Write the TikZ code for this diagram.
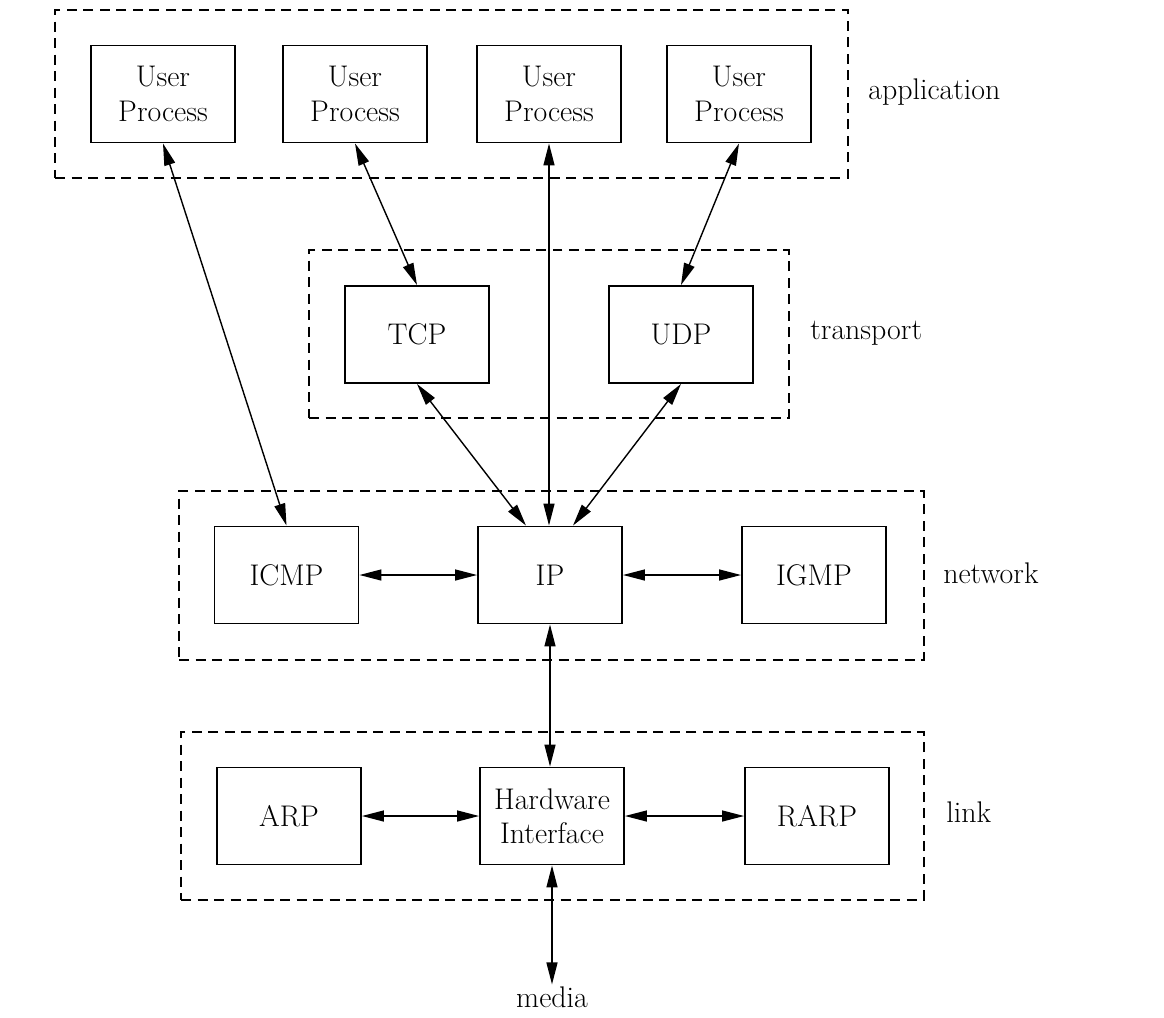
\documentclass[tikz,border=0pt]{standalone}
\usepackage{tikz}
\usetikzlibrary{positioning}
\usetikzlibrary{calc}
\usetikzlibrary{arrows.meta}
\tikzset{mybox/.style={draw, line width=1.1pt, minimum width=2.88cm, minimum height=1.94cm, align=center, inner sep=0pt}}
\tikzset{myLayer/.style={draw, dash pattern=on 0.2cm off 0.13cm, line width=0.8pt}}
\tikzset{myLbl/.style={anchor=west, inner sep=0pt}}
\tikzset{myArr/.style={{Triangle[length=0.44cm,width=0.22cm]}-{Triangle[length=0.44cm,width=0.22cm]}, line width=0.8pt}}

\begin{document}
\begin{tikzpicture}[x=0.02cm, y=-0.02cm, font=\fontsize{17}{19.5}\selectfont]

\useasboundingbox (0,0) rectangle (1164,1018);

% layers
\node[myLayer, minimum width=15.86cm, minimum height=3.36cm] (appLayer) at (451.5, 94) {};
\node[myLayer, minimum width=9.6cm, minimum height=3.36cm] (trLayer) at (549, 334) {};
\node[myLayer, minimum width=14.9cm, minimum height=3.38cm] (netLayer) at (551.5, 575.5) {};
\node[myLayer, minimum width=14.86cm, minimum height=3.36cm] (linkLayer) at (552.5, 816) {};

\node[myLbl] (appLbl) at (868, 92) {application};
\node[myLbl] (trLbl) at (810, 333) {transport};
\node[myLbl] (netLbl) at (943, 573) {network};
\node[myLbl] (linkLbl) at (946, 812) {link};

% boxes
\node[mybox] (up1) at (163, 94) {User\\Process};
\node[mybox] (up2) at (355, 94) {User\\Process};
\node[mybox] (up3) at (549, 94) {User\\Process};
\node[mybox] (up4) at (739, 94) {User\\Process};

\node[mybox] (tcp) at (417, 334.5) {TCP};
\node[mybox] (udp) at (681, 334.5) {UDP};

\node[mybox] (icmp) at (286.5, 575) {ICMP};
\node[mybox] (ip) at (550, 575) {IP};
\node[mybox] (igmp) at (814, 575) {IGMP};

\node[mybox] (arp) at (289, 816) {ARP};
\node[mybox] (hw) at (552, 816) {Hardware\\Interface};
\node[mybox] (rarp) at (817, 816) {RARP};

\node[inner sep=1pt] (media) at (552, 997) {media};

% connectors
\draw[myArr] (up1.south) -- (icmp.north);
\draw[myArr] (up2.south) -- (tcp.north);
\draw[myArr] (up3.south) -- (up3.south |- ip.north);
\draw[myArr] (up4.south) -- (udp.north);
\draw[myArr] (tcp.south) -- ($(ip.north)+(-24,0)$);
\draw[myArr] (udp.south) -- ($(ip.north)+(23,0)$);
\draw[myArr] (icmp.east) -- (ip.west);
\draw[myArr] (ip.east) -- (igmp.west);
\draw[myArr] (ip.south) -- (ip.south |- hw.north);
\draw[myArr] (arp.east) -- (hw.west);
\draw[myArr] (hw.east) -- (rarp.west);
\draw[myArr] (hw.south) -- (media.north);

\end{tikzpicture}
\end{document}
